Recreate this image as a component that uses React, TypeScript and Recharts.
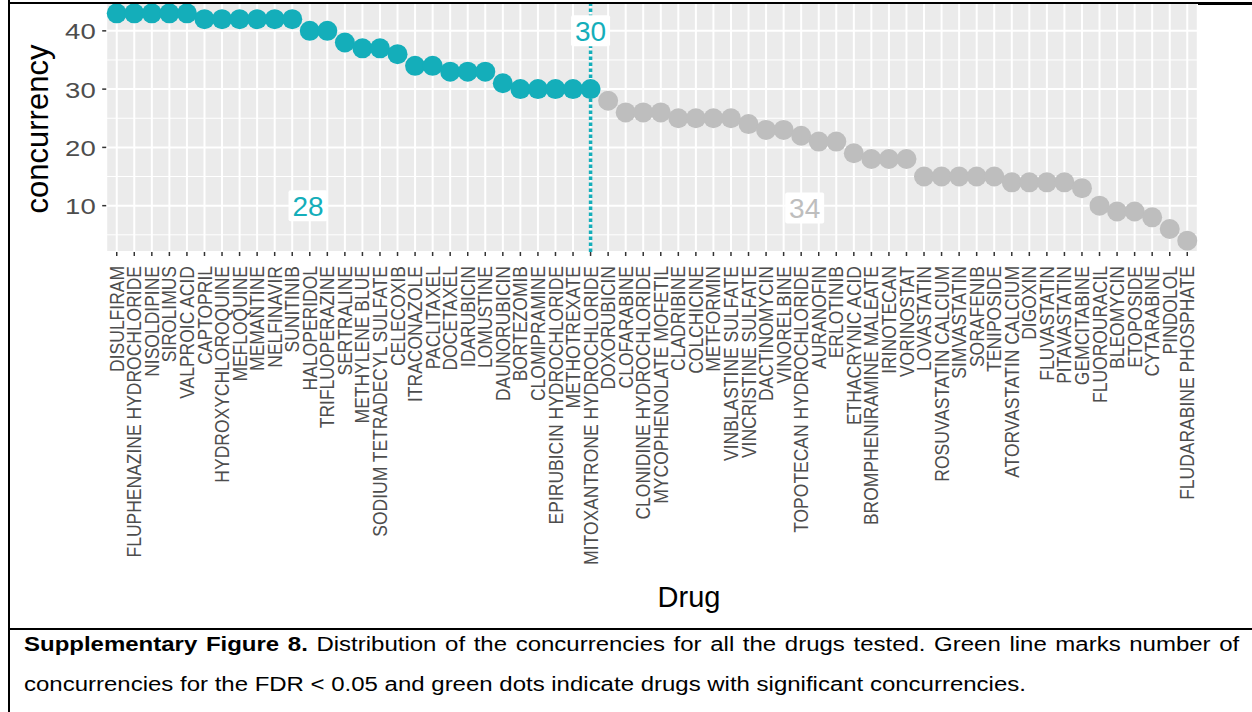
import React from 'react';
import { ScatterChart, Scatter, XAxis, YAxis, CartesianGrid, ReferenceLine, ReferenceDot } from 'recharts';

// #region data
const drugs = [
  'DISULFIRAM', 'FLUPHENAZINE HYDROCHLORIDE', 'NISOLDIPINE', 'SIROLIMUS', 'VALPROIC ACID',
  'CAPTOPRIL', 'HYDROXYCHLOROQUINE', 'MEFLOQUINE', 'MEMANTINE', 'NELFINAVIR', 'SUNITINIB',
  'HALOPERIDOL', 'TRIFLUOPERAZINE', 'SERTRALINE', 'METHYLENE BLUE', 'SODIUM TETRADECYL SULFATE',
  'CELECOXIB', 'ITRACONAZOLE', 'PACLITAXEL', 'DOCETAXEL', 'IDARUBICIN', 'LOMUSTINE',
  'DAUNORUBICIN', 'BORTEZOMIB', 'CLOMIPRAMINE', 'EPIRUBICIN HYDROCHLORIDE', 'METHOTREXATE',
  'MITOXANTRONE HYDROCHLORIDE', 'DOXORUBICIN', 'CLOFARABINE', 'CLONIDINE HYDROCHLORIDE',
  'MYCOPHENOLATE MOFETIL', 'CLADRIBINE', 'COLCHICINE', 'METFORMIN', 'VINBLASTINE SULFATE',
  'VINCRISTINE SULFATE', 'DACTINOMYCIN', 'VINORELBINE', 'TOPOTECAN HYDROCHLORIDE', 'AURANOFIN',
  'ERLOTINIB', 'ETHACRYNIC ACID', 'BROMPHENIRAMINE MALEATE', 'IRINOTECAN', 'VORINOSTAT',
  'LOVASTATIN', 'ROSUVASTATIN CALCIUM', 'SIMVASTATIN', 'SORAFENIB', 'TENIPOSIDE',
  'ATORVASTATIN CALCIUM', 'DIGOXIN', 'FLUVASTATIN', 'PITAVASTATIN', 'GEMCITABINE',
  'FLUOROURACIL', 'BLEOMYCIN', 'ETOPOSIDE', 'CYTARABINE', 'PINDOLOL', 'FLUDARABINE PHOSPHATE',
];

const concurrency = [
  43, 43, 43, 43, 43, 42, 42, 42, 42, 42, 42, 40, 40, 38, 37, 37, 36, 34, 34, 33, 33, 33, 31,
  30, 30, 30, 30, 30, 28, 26, 26, 26, 25, 25, 25, 25, 24, 23, 23, 22, 21, 21, 19, 18, 18, 18,
  15, 15, 15, 15, 15, 14, 14, 14, 14, 13, 10, 9, 9, 8, 6, 4,
];

const threshold = 30;
const yTicks = [10, 20, 30, 40];
const yMinor = [5, 15, 25, 35];
// label anchors in data units: [x index, y value]
const labelX = [27, 10.9, 39.2];
const labelY = [40, 10, 9.6];
// #endregion

const TEAL = '#14AEBA';
const GREY = '#BEBEBE';
const FONT = '"Liberation Sans", Arial, Helvetica, sans-serif';

const points = drugs.map((name, i) => ({ idx: i, value: concurrency[i], name }));
const significant = points.filter((p) => p.value >= threshold);
const rest = points.filter((p) => p.value < threshold);
const cutIdx = significant.length - 1;

const labels = [
  { text: String(threshold), color: TEAL },
  { text: String(significant.length), color: TEAL },
  { text: String(rest.length), color: GREY },
].map((l, i) => ({ ...l, x: labelX[i], y: labelY[i] }));

const DrugTick = (props: any) => {
  const { x, y, payload } = props;
  return (
    <text
      transform={`translate(${x},${y + 8}) rotate(-90) scale(1,1.2)`}
      textAnchor="end"
      dominantBaseline="central"
      fontSize={17.5}
      fill="#4D4D4D"
      fontFamily={FONT}
    >
      {drugs[payload.value]}
    </text>
  );
};

const CountTick = (props: any) => {
  const { x, y, payload } = props;
  return (
    <text
      transform={`translate(${x - 4.5},${y + 8.5}) scale(1.25,1)`}
      textAnchor="end"
      fontSize={22}
      fill="#4D4D4D"
      fontFamily={FONT}
    >
      {payload.value}
    </text>
  );
};

const dot = (fill: string) => (p: any) => <circle cx={p.cx} cy={p.cy} r={10} fill={fill} />;

const boxLabel = (text: string, color: string) => (p: any) => (
  <g>
    <rect x={p.cx - 19.5} y={p.cy - 15.5} width={39} height={31} rx={2} fill="#FFFFFF" />
    <text x={p.cx} y={p.cy + 10} textAnchor="middle" fontSize={28} fill={color} fontFamily={FONT}>
      {text}
    </text>
  </g>
);

const App = () => {
  return (
    <div
      style={{
        position: 'absolute',
        left: 0,
        top: 0,
        width: 1252,
        height: 712,
        overflow: 'hidden',
        background: '#FFFFFF',
        fontFamily: FONT,
      }}
    >
      <div style={{ position: 'absolute', left: 0, top: 0 }}>
        <ScatterChart width={1252} height={628} margin={{ top: 2, right: 54.2, bottom: 0, left: 0 }}>
          <CartesianGrid
            fill="#EBEBEB"
            stroke="#FFFFFF"
            strokeWidth={1}
            vertical={false}
            horizontalValues={yMinor}
          />
          <CartesianGrid stroke="#FFFFFF" strokeWidth={2} />
          <XAxis
            type="number"
            dataKey="idx"
            domain={[-0.6, 61.6]}
            ticks={points.map((p) => p.idx)}
            interval={0}
            allowDataOverflow
            axisLine={false}
            tickSize={4}
            tickLine={{ stroke: '#333333', strokeWidth: 1.5 }}
            tick={<DrugTick />}
            height={376}
            label={{
              value: 'Drug',
              content: () => (
                <text x={689} y={607} textAnchor="middle" fontSize={29} fill="#000000" fontFamily={FONT}>
                  Drug
                </text>
              ),
            }}
          />
          <YAxis
            type="number"
            dataKey="value"
            domain={[2.05, 44.95]}
            ticks={yTicks}
            allowDataOverflow
            axisLine={false}
            width={106.2}
            tickSize={4}
            tickLine={{ stroke: '#333333', strokeWidth: 1.5 }}
            tick={<CountTick />}
            label={{
              value: 'concurrency',
              content: () => (
                <text
                  transform="translate(48.3,129) rotate(-90)"
                  textAnchor="middle"
                  fontSize={31}
                  fill="#000000"
                  fontFamily={FONT}
                >
                  concurrency
                </text>
              ),
            }}
          />
          <Scatter data={rest} shape={dot(GREY)} isAnimationActive={false} />
          <Scatter data={significant} shape={dot(TEAL)} isAnimationActive={false} />
          <ReferenceLine x={cutIdx} stroke={TEAL} strokeWidth={3.5} strokeDasharray="3.5 2.5" />
          {labels.map((l) => (
            <ReferenceDot key={l.text} x={l.x} y={l.y} r={0} shape={boxLabel(l.text, l.color)} />
          ))}
        </ScatterChart>
      </div>

      {/* table frame around the figure */}
      <div style={{ position: 'absolute', left: 7.5, top: 0, width: 2, height: 712, background: '#000' }} />
      <div style={{ position: 'absolute', left: 7.5, top: 2, width: 1190, height: 1.5, background: '#000' }} />
      <div style={{ position: 'absolute', left: 1198, top: 1.5, width: 54, height: 3, background: '#000' }} />
      <div style={{ position: 'absolute', left: 7.5, top: 627.5, width: 1245, height: 2.5, background: '#000' }} />

      <div
        style={{
          position: 'absolute',
          left: 23.5,
          top: 634.5,
          width: 988,
          fontSize: 19.5,
          lineHeight: '19.5px',
          textAlign: 'justify',
          textAlignLast: 'justify',
          transform: 'scaleX(1.23)',
          transformOrigin: 'left top',
          color: '#000',
        }}
      >
        <span style={{ fontWeight: 700 }}>Supplementary Figure 8.</span> Distribution of the concurrencies for all
        the drugs tested. Green line marks number of
      </div>
      <div
        style={{
          position: 'absolute',
          left: 23.5,
          top: 674.5,
          fontSize: 19.5,
          lineHeight: '19.5px',
          whiteSpace: 'nowrap',
          transform: 'scaleX(1.23)',
          transformOrigin: 'left top',
          color: '#000',
        }}
      >
        concurrencies for the FDR &lt; 0.05 and green dots indicate drugs with significant concurrencies.
      </div>
    </div>
  );
};

export default App;
